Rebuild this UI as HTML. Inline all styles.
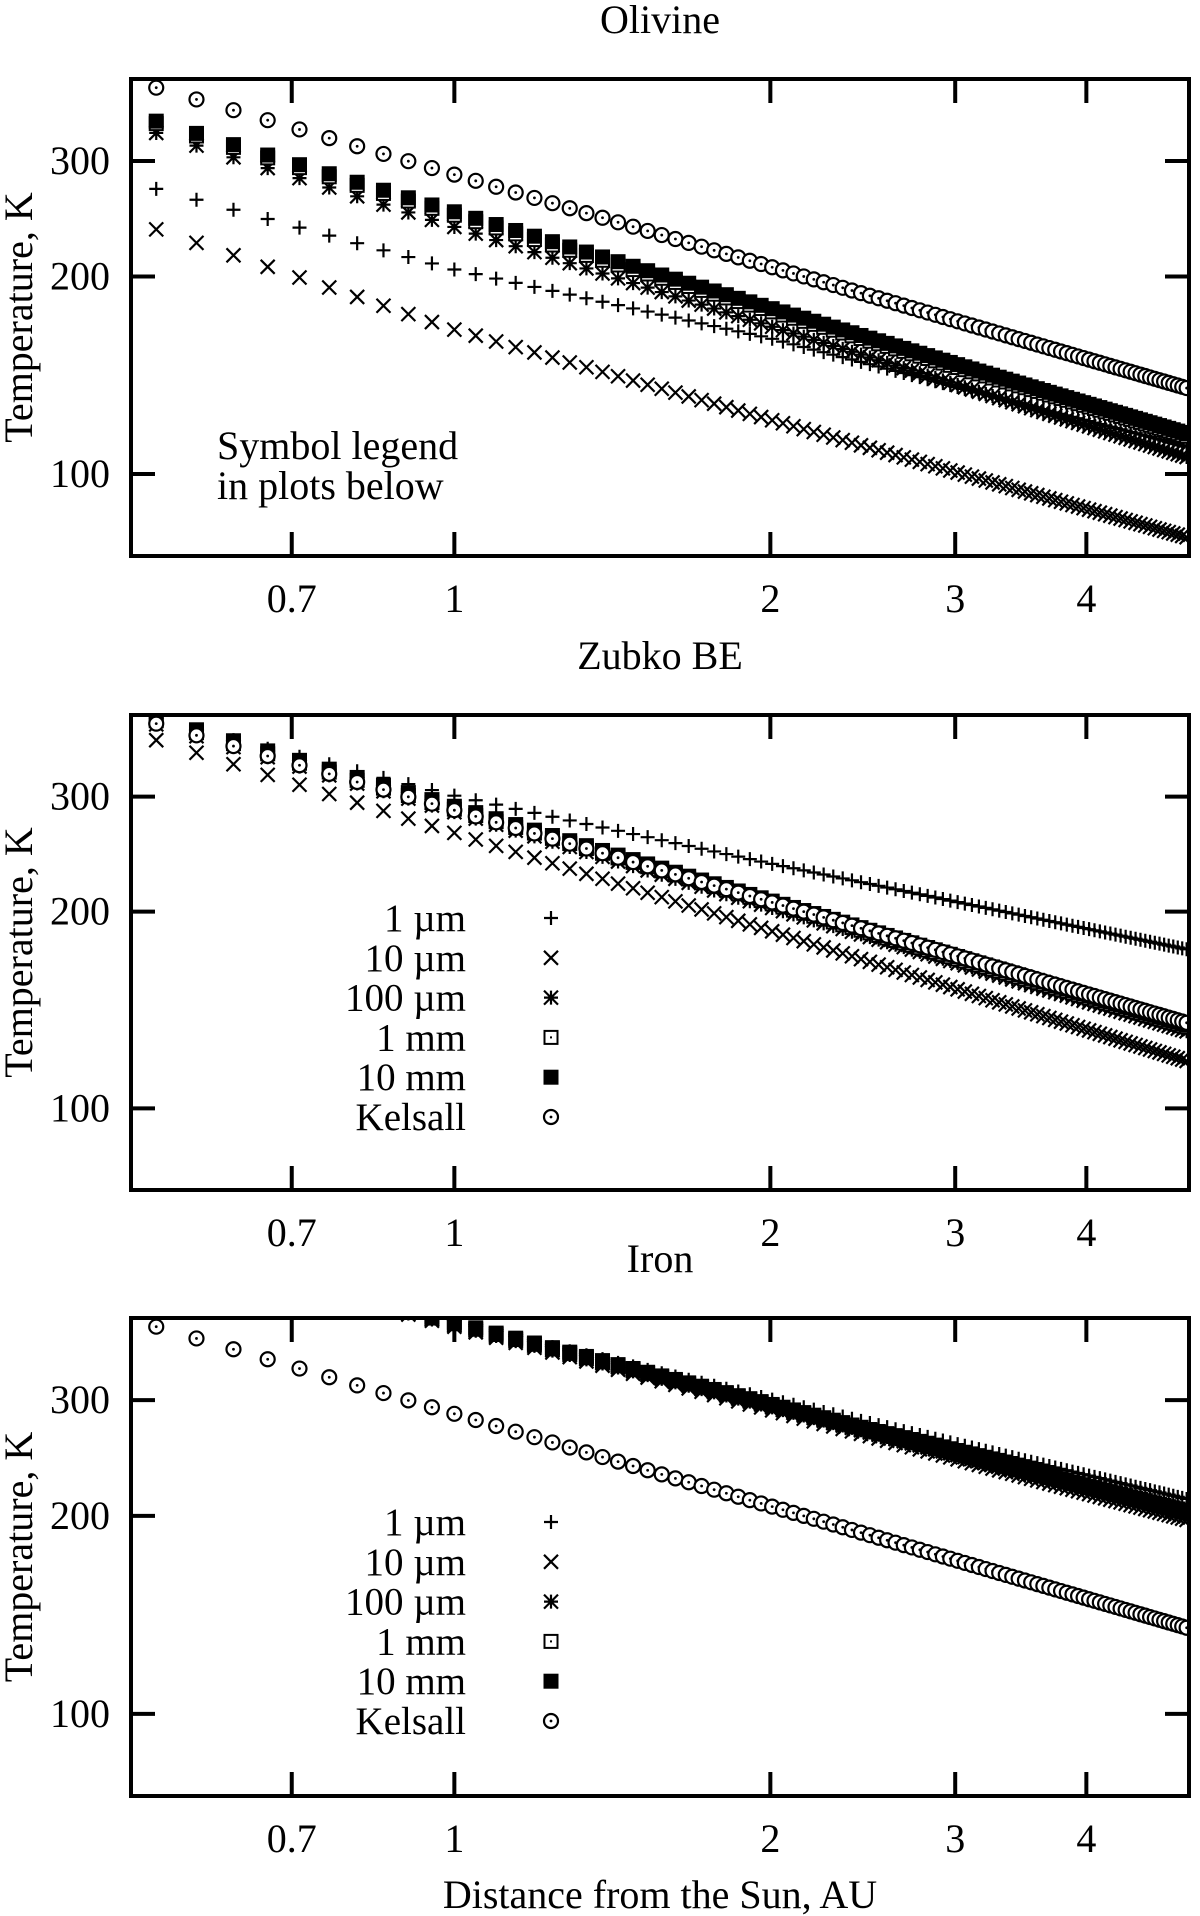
<!DOCTYPE html>
<html><head><meta charset="utf-8"><style>
html,body{margin:0;padding:0;background:#fff;}
svg{display:block;font-family:"Liberation Serif",serif;}
</style></head><body>
<svg id="chart" width="1200" height="1916" viewBox="0 0 1200 1916" xmlns="http://www.w3.org/2000/svg"></svg>
<script>
// ---- data ----
const distances = [0.520,0.568,0.616,0.664,0.712,0.760,0.808,0.856,0.904,0.952,
1.000,1.048,1.096,1.144,1.192,1.240,1.288,1.336,1.384,1.432,
1.480,1.528,1.576,1.624,1.672,1.720,1.768,1.816,1.864,1.912,
1.960,2.008,2.056,2.104,2.152,2.200,2.248,2.296,2.344,2.392,
2.440,2.488,2.536,2.584,2.632,2.680,2.728,2.776,2.824,2.872,
2.920,2.968,3.016,3.064,3.112,3.160,3.208,3.256,3.304,3.352,
3.400,3.448,3.496,3.544,3.592,3.640,3.688,3.736,3.784,3.832,
3.880,3.928,3.976,4.024,4.072,4.120,4.168,4.216,4.264,4.312,
4.360,4.408,4.456,4.504,4.552,4.600,4.648,4.696,4.744,4.792,
4.840,4.888,4.936,4.984];
// temperatures (K) read at these distances (AU)
const anchorDistances = [0.52, 1, 2, 5];
const olivine1um   = [272,205,161,110];
const olivine10um  = [236,166,121,80];
const olivine100um = [331,238,168,106];
const olivine1mm   = [342,248,177,114];
const olivine10mm  = [345,251,179,115];
const zubko1um   = [392,301,237,175];
const zubko10um  = [366,264,187,118];
const zubko100um = [387,284,203,131];
const zubko1mm   = [392,287,206,133];
const zubko10mm  = [396,290,208,134];
const iron1um   = [503,392,301,212];
const iron10um  = [511,388,290,197];
const iron100um = [509,390,293,201];
const iron1mm   = [511,392,295,202];
const iron10mm  = [513,394,296,203];
const kelsall   = [388,286,207,135];
const xTicks = [0.7,1,2,3,4];
const xTickLabels = ["0.7","1","2","3","4"];
const yTicks = [100,200,300];
const yTickLabels = ["100","200","300"];
const seriesNames = ["1 µm","10 µm","100 µm","1 mm","10 mm","Kelsall"];
const panelTitles = ["Olivine","Zubko BE","Iron"];

// ---- layout ----
const NS="http://www.w3.org/2000/svg";
const svg=document.getElementById('chart');
const L=131,R=1189;
const tops=[79,715,1318], bottoms=[556,1190,1796];
const XMIN=0.492,XMAX=5.01,YMIN=75,YMAX=400;
function xs(v){return L+(Math.log10(v)-Math.log10(XMIN))/(Math.log10(XMAX)-Math.log10(XMIN))*(R-L);}
function ysF(p){return v=>bottoms[p]-(Math.log10(v)-Math.log10(YMIN))/(Math.log10(YMAX)-Math.log10(YMIN))*(bottoms[p]-tops[p]);}
function el(tag,attrs,parent){const e=document.createElementNS(NS,tag);for(const k in attrs)e.setAttribute(k,attrs[k]);(parent||svg).appendChild(e);return e;}
function tempAt(anchors,r){
  const lr=Math.log10(r);
  let i=0; while(i<anchorDistances.length-2 && r>anchorDistances[i+1]) i++;
  const a=Math.log10(anchorDistances[i]),b=Math.log10(anchorDistances[i+1]);
  const t=(lr-a)/(b-a);
  return Math.pow(10,Math.log10(anchors[i])+t*(Math.log10(anchors[i+1])-Math.log10(anchors[i])));
}
function marker(g,type,x,y){
  const s=7;
  if(type===0){el('path',{d:`M${x-s},${y}H${x+s}M${x},${y-s}V${y+s}`,stroke:'#000','stroke-width':2.2,fill:'none'},g);}
  else if(type===1){el('path',{d:`M${x-s},${y-s}L${x+s},${y+s}M${x-s},${y+s}L${x+s},${y-s}`,stroke:'#000','stroke-width':2.2,fill:'none'},g);}
  else if(type===2){el('path',{d:`M${x-s},${y}H${x+s}M${x},${y-s}V${y+s}M${x-s},${y-s}L${x+s},${y+s}M${x-s},${y+s}L${x+s},${y-s}`,stroke:'#000','stroke-width':2.2,fill:'none'},g);}
  else if(type===3){el('rect',{x:x-6.5,y:y-6.5,width:13,height:13,stroke:'#000','stroke-width':2,fill:'#fff'},g);el('rect',{x:x-1,y:y-1,width:2,height:2,fill:'#000'},g);}
  else if(type===4){el('rect',{x:x-7.5,y:y-7.5,width:15,height:15,fill:'#000'},g);}
  else {el('circle',{cx:x,cy:y,r:7,stroke:'#000','stroke-width':2.2,fill:'#fff'},g);el('circle',{cx:x,cy:y,r:1.4,fill:'#000'},g);}
}
const panels=[[olivine1um,olivine10um,olivine100um,olivine1mm,olivine10mm,kelsall],
              [zubko1um,zubko10um,zubko100um,zubko1mm,zubko10mm,kelsall],
              [iron1um,iron10um,iron100um,iron1mm,iron10mm,kelsall]];
const defs=el('defs',{});
panels.forEach((series,p)=>{
  const ys=ysF(p);
  const T=tops[p],B=bottoms[p];
  const cp=el('clipPath',{id:'clip'+p},defs);
  el('rect',{x:L,y:T,width:R-L,height:B-T},cp);
  const panel=el('g',{});
  
  
  const title=el('text',{x:660,y:T-46,'font-size':40,'text-anchor':'middle'},panel);
  title.textContent=panelTitles[p];
  
  
  const ylab=el('text',{x:0,y:0,'font-size':40,'text-anchor':'middle',transform:`translate(32,${(T+B)/2}) rotate(-90)`},panel);
  ylab.textContent='Temperature, K';
  
  
  // series
  const pts=el('g',{'clip-path':`url(#clip${p})`},panel);
  series.forEach((anch,si)=>{
    const g=el('g',{},pts);
    
    
    distances.forEach(r=>{marker(g,si,xs(r),ys(tempAt(anch,r)));});
  });
  // frame
  const fr=el('rect',{x:L,y:T,width:R-L,height:B-T,fill:'none',stroke:'#000','stroke-width':4},panel);
  
  
  xTicks.forEach((v,i)=>{
    const x=xs(v);
    el('path',{d:`M${x},${B}V${B-24}M${x},${T}V${T+24}`,stroke:'#000','stroke-width':4},panel);
    const t=el('text',{x:x,y:B+56,'font-size':40,'text-anchor':'middle'},panel);
    t.textContent=xTickLabels[i];
    
    
  });
  yTicks.forEach((v,i)=>{
    const y=ys(v);
    el('path',{d:`M${L},${y}H${L+24}M${R},${y}H${R-24}`,stroke:'#000','stroke-width':4},panel);
    const t=el('text',{x:110,y:y+13,'font-size':40,'text-anchor':'end'},panel);
    t.textContent=yTickLabels[i];
    
    
  });
  if(p===0){
    const n=el('text',{x:217,y:459,'font-size':40},panel);
    n.textContent='Symbol legend';
    
    
    const n2=el('text',{x:217,y:499,'font-size':40},panel);
    n2.textContent='in plots below';
    
    
  } else {
    const lg=el('g',{},panel);
    
    
    const base=p===1?918:1522;
    seriesNames.forEach((nm,si)=>{
      const y=base+si*39.8;
      const e=el('g',{},lg);
      
      
      const t=el('text',{x:466,y:y+13,'font-size':39,'text-anchor':'end'},e);
      t.textContent=nm;
      marker(e,si,551,y);
    });
  }
});
const xt=el('text',{x:660,y:1908,'font-size':40,'text-anchor':'middle'});
xt.textContent='Distance from the Sun, AU';


</script>
</body></html>
